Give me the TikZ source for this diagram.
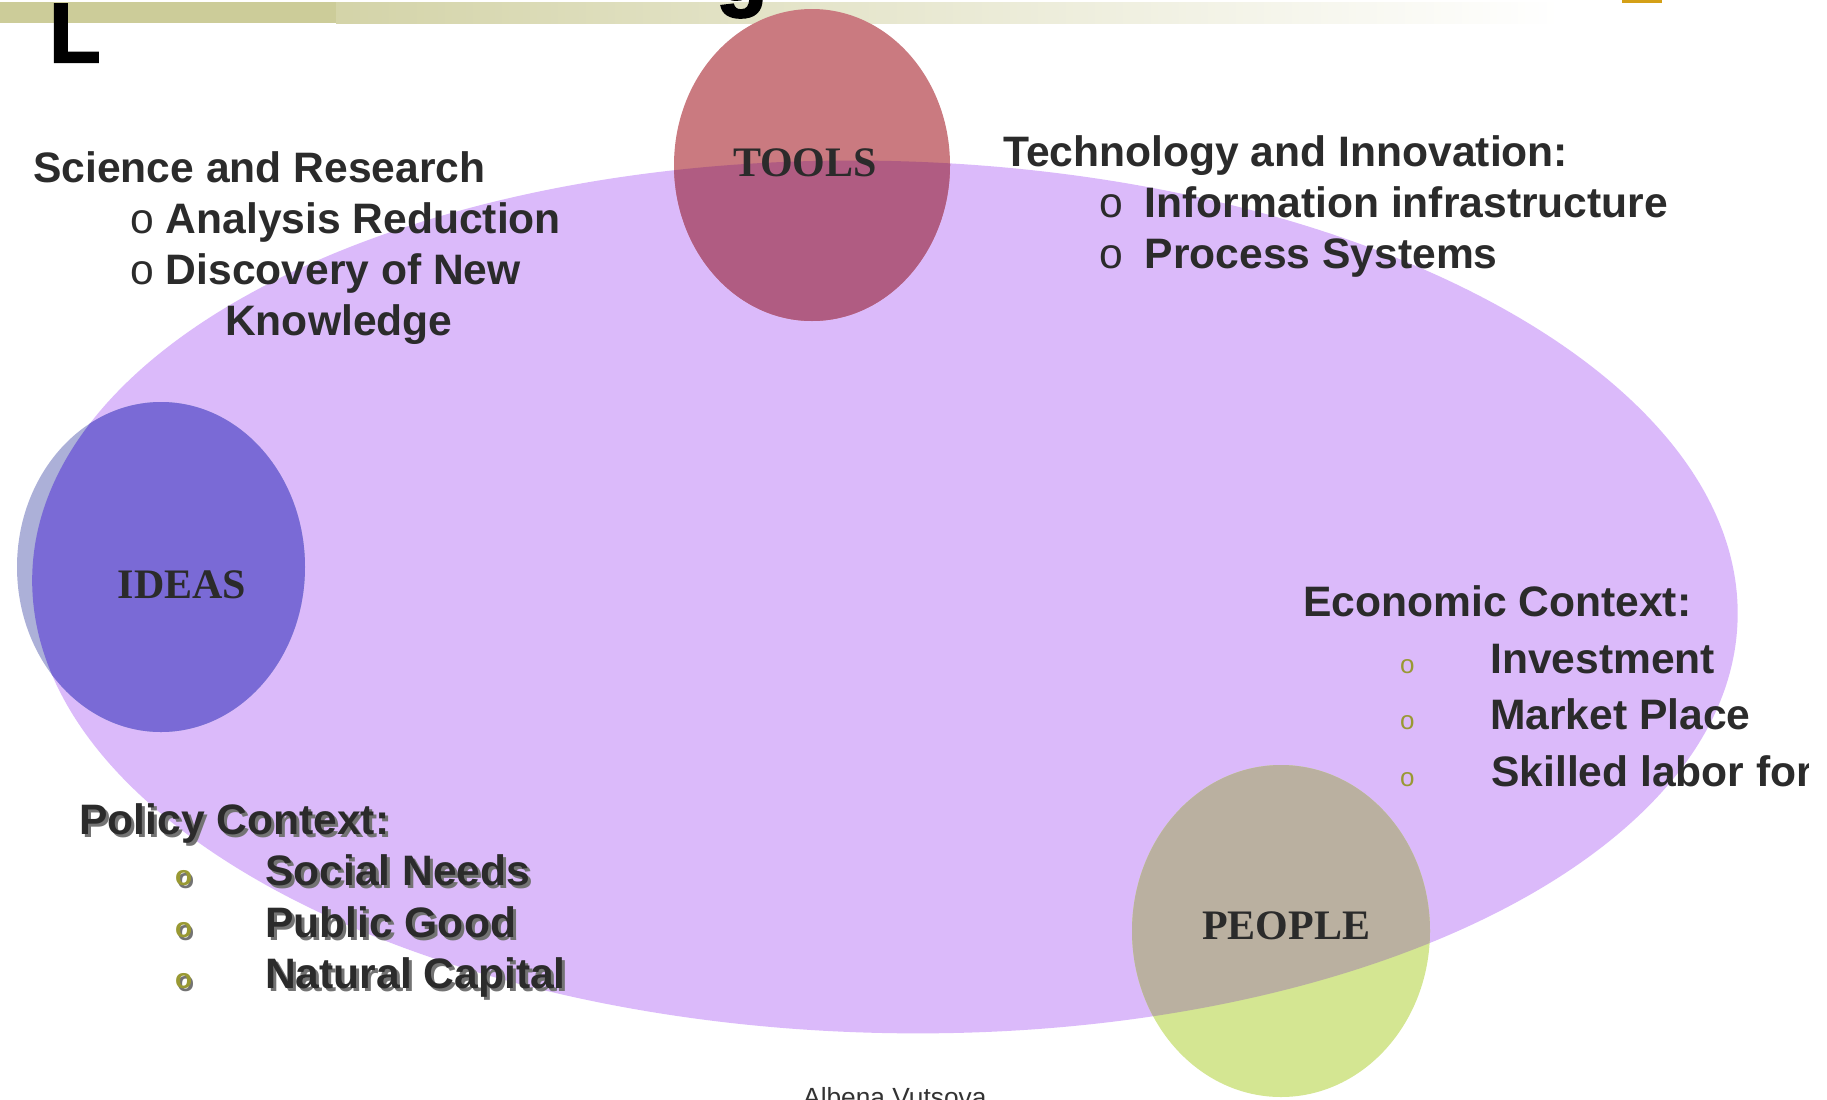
\documentclass[tikz,border=0pt]{standalone}
\usepackage{fontspec}
\setmainfont{Liberation Sans}
\newfontfamily\circfont{Liberation Serif}
\newfontfamily\titlefont{Liberation Sans Bold}[FakeBold=2.5]
\definecolor{txtgray}{RGB}{43,43,43}
\definecolor{lavender}{RGB}{219,186,250}
\definecolor{ideasout}{RGB}{172,176,216}
\definecolor{ideasin}{RGB}{122,106,214}
\definecolor{toolsout}{RGB}{202,122,128}
\definecolor{toolsin}{RGB}{176,92,130}
\definecolor{peopleout}{RGB}{212,230,146}
\definecolor{peoplein}{RGB}{186,176,160}
\definecolor{barolive}{RGB}{204,204,153}
\definecolor{bulletolive}{RGB}{153,153,51}
\definecolor{markgold}{RGB}{212,160,23}
\begin{document}
\begin{tikzpicture}[x=1bp,y=-1bp,
  txt/.style={font=\bfseries\fontsize{42.6bp}{51bp}\selectfont,text=txtgray,inner sep=0pt,anchor=base west},
  shadowtxt/.style={txt,text=black!55},
  circtxt/.style={font=\circfont\bfseries\fontsize{42bp}{50bp}\selectfont,text=txtgray,inner sep=0pt,anchor=base},
  smallbul/.style={font=\fontsize{26bp}{30bp}\selectfont,text=bulletolive,inner sep=0pt,anchor=base west},
  boldbul/.style={font=\bfseries\fontsize{28bp}{30bp}\selectfont,text=bulletolive,inner sep=0pt,anchor=base west},
  titletxt/.style={font=\titlefont\fontsize{84bp}{84bp}\selectfont,text=black,inner sep=0pt,anchor=base west}]
\useasboundingbox (0,0) rectangle (1827,1099);
\fill[barolive] (0,2) rectangle (336,23);
\shade[left color=barolive!85!white,right color=white] (336,2) rectangle (1560,23);
\fill[markgold] (1622,0) rectangle (1662,2.5);
\node[titletxt] (title-g) at (716,0) {g};
\node[titletxt] (title-L) at (49,62) {L};
\coordinate (E) at (885,597);
\coordinate (T) at (812,165);
\coordinate (I) at (161,567);
\coordinate (P) at (1281,931);
\fill[lavender,rotate around={-1.5:(E)}] (E) ellipse [x radius=853,y radius=436];
\fill[ideasout] (I) ellipse [x radius=144,y radius=165];
\fill[toolsout] (T) ellipse [x radius=138,y radius=156];
\fill[peopleout] (P) ellipse [x radius=149,y radius=166];
\begin{scope}
\clip[rotate around={-1.5:(E)}] (E) ellipse [x radius=853,y radius=436];
\fill[ideasin] (I) ellipse [x radius=144,y radius=165];
\fill[toolsin] (T) ellipse [x radius=138,y radius=156];
\fill[peoplein] (P) ellipse [x radius=149,y radius=166];
\end{scope}
\node[circtxt] (tools) at (805,176) {TOOLS};
\node[circtxt] (ideas) at (182,598) {IDEAS};
\node[circtxt] (people) at (1286,939) {PEOPLE};
\node[txt] (science) at (33,182) {Science and Research};
\node[txt] (analysis) at (130,233) {{\mdseries o} Analysis Reduction};
\node[txt] (discovery) at (130,284) {{\mdseries o} Discovery of New};
\node[txt] (knowledge) at (225,335) {Knowledge};
\node[txt] (tech) at (1003,166) {Technology and Innovation:};
\node[txt] (infra) at (1099,217) {{\mdseries o}\hspace{22bp}Information infrastructure};
\node[txt] (process) at (1099,268) {{\mdseries o}\hspace{22bp}Process Systems};
\node[txt] (economic) at (1303,616) {Economic Context:};
\node[smallbul] (eb1) at (1400,673) {o};
\node[smallbul] (eb2) at (1400,729) {o};
\node[smallbul] (eb3) at (1400,786) {o};
\node[txt] (invest) at (1490,673) {Investment};
\node[txt] (market) at (1490,729) {Market Place};
\begin{scope}
\clip (0,0) rectangle (1808,1099);
\node[txt] (skilled) at (1491,786) {Skilled labor for};
\end{scope}
\node[shadowtxt] (policy-s) at (82,837) {Policy Context:};
\node[txt] (policy) at (79,834) {Policy Context:};
\node[boldbul,text=black!55] (pb1-s) at (177,888) {o};
\node[boldbul,text=black!55] (pb2-s) at (177,940) {o};
\node[boldbul,text=black!55] (pb3-s) at (177,991) {o};
\node[boldbul] (pb1) at (175,885) {o};
\node[boldbul] (pb2) at (175,937) {o};
\node[boldbul] (pb3) at (175,988) {o};
\node[shadowtxt] (social-s) at (268,888) {Social Needs};
\node[shadowtxt] (public-s) at (268,940) {Public Good};
\node[shadowtxt] (natural-s) at (268,991) {Natural Capital};
\node[txt] (social) at (265,885) {Social Needs};
\node[txt] (public) at (265,937) {Public Good};
\node[txt] (natural) at (265,988) {Natural Capital};
\node[font=\fontsize{26.3bp}{30bp}\selectfont,text=black!80,inner sep=0pt,anchor=base west] (author) at (803,1106) {Albena Vutsova};
\end{tikzpicture}
\end{document}
